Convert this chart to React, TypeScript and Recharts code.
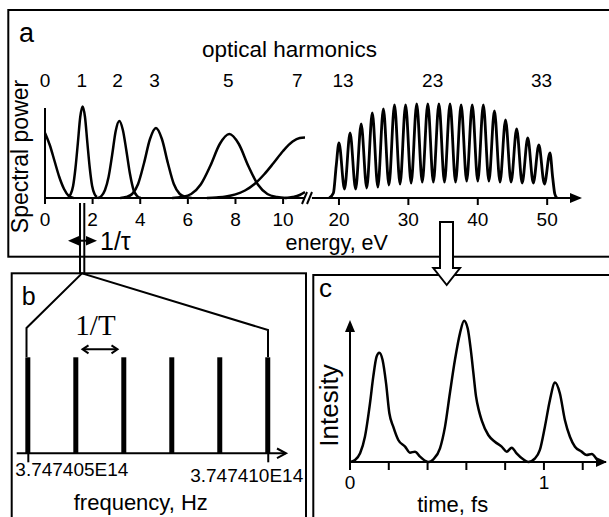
import { LineChart, ComposedChart, Line, Bar, XAxis, YAxis } from 'recharts'

const W = 609
const H = 517
const SANS = '"Liberation Sans", Arial, Helvetica, sans-serif'
const SERIF = '"Liberation Serif", "Times New Roman", serif'
const INK = '#000'

// (a) low-order harmonics, [energy eV, spectral power]
const harm0 = [[0, 65], [0.2, 53], [0.4, 37], [0.6, 21], [0.8, 9], [1.0, 2], [1.2, 0]]
const harm1 = [[0.98, 1], [1.08, 4], [1.18, 12], [1.28, 30], [1.38, 55], [1.48, 81], [1.58, 91.5], [1.68, 81], [1.78, 55], [1.88, 30], [1.98, 12], [2.08, 4], [2.18, 1]]
const harm2 = [[2.22, 0], [2.37, 2], [2.52, 8], [2.67, 21], [2.82, 43], [2.97, 67], [3.12, 77], [3.27, 68], [3.42, 47], [3.57, 24], [3.72, 8], [3.87, 2], [4.02, 0]]
const harm3 = [[3.16, 0], [3.41, 1], [3.66, 4], [3.91, 14], [4.16, 35], [4.41, 59], [4.66, 70], [4.91, 59], [5.16, 35], [5.41, 14], [5.66, 4], [5.91, 1], [6.16, 0]]
const harm5 = [[5.34, 0], [5.74, 1], [6.14, 4], [6.54, 13.5], [6.94, 32], [7.34, 54], [7.74, 64], [8.14, 54], [8.54, 32], [8.94, 13.5], [9.34, 4], [9.74, 1], [10.14, 0]]
const harm7 = [[6.8, 0], [7.2, 0.6], [7.6, 1.5], [8.0, 3.6], [8.4, 7.5], [8.8, 14], [9.2, 23.5], [9.6, 35], [10.0, 47], [10.4, 56.4], [10.7, 60], [10.92, 60.5]]
const harm9 = [[10.1, 0], [10.4, 1], [10.7, 3], [10.92, 6]]
const lowTicks = [0, 2, 4, 6, 8, 10]
const lowOrders = ['0', '1', '2', '3', '5', '7']
const lowOrderEnergy = [0, 1.55, 3.05, 4.6, 7.7, 10.6]

// (a) high-harmonic plateau
const plateau = [
  [18.6, 0], [19.2, 5], [19.6, 32],
  [20.0, 55], [20.8, 9], [21.6, 65], [22.4, 9], [23.2, 74], [24.0, 10], [24.8, 85], [25.6, 11],
  [26.4, 89], [27.2, 13], [28.0, 93], [28.8, 14], [29.6, 93], [30.4, 15], [31.2, 94], [32.0, 16],
  [32.8, 94], [33.6, 16], [34.4, 94], [35.2, 16], [36.0, 94], [36.8, 16], [37.6, 93], [38.4, 17],
  [39.2, 93], [40.0, 17], [40.8, 93], [41.6, 17], [42.4, 87], [43.2, 16], [44.0, 78], [44.8, 16],
  [45.6, 69], [46.4, 15], [47.2, 60], [48.0, 15], [48.8, 53], [49.6, 14], [50.4, 45],
  [50.8, 20], [51.1, 4], [51.4, 0],
]
const highTicks = [20, 30, 40, 50]
const highOrders = ['13', '23', '33']
const highOrderEnergy = [20.6, 33.5, 49.2]

// (b) comb lines
const combFreq = [3.747405e14, 3.747406e14, 3.747407e14, 3.747408e14, 3.747409e14, 3.74741e14]
const combAmp = [1, 1, 1, 1, 1, 1]
const combTicks = [3.747405e14, 3.74741e14]

// (c) attosecond pulse train, [time fs, intensity]
const pulse = [
  [0, 0], [0.026, 0.014], [0.052, 0.061], [0.077, 0.178], [0.103, 0.413], [0.12, 0.601], [0.137, 0.742],
  [0.151, 0.77], [0.168, 0.718], [0.186, 0.554], [0.203, 0.343], [0.223, 0.249], [0.249, 0.155],
  [0.284, 0.108], [0.309, 0.066], [0.335, 0.073], [0.361, 0.038], [0.387, 0.009], [0.404, 0],
  [0.43, 0.019], [0.464, 0.096], [0.49, 0.249], [0.515, 0.484], [0.541, 0.718], [0.567, 0.906],
  [0.588, 0.995], [0.607, 0.94], [0.622, 0.8], [0.636, 0.63], [0.65, 0.46], [0.665, 0.36],
  [0.68, 0.29], [0.713, 0.19], [0.747, 0.143], [0.782, 0.108], [0.808, 0.073], [0.834, 0.101],
  [0.859, 0.061], [0.893, 0.019], [0.919, 0], [0.954, 0.026], [0.979, 0.085], [1.005, 0.249],
  [1.031, 0.437], [1.057, 0.559], [1.082, 0.484], [1.108, 0.296], [1.134, 0.178], [1.16, 0.108],
  [1.194, 0.073], [1.22, 0.049], [1.246, 0.056], [1.272, 0.019],
]
const timeTicks = [0, 0.2, 0.4, 0.6, 0.8, 1.0, 1.2]

// plot rectangles in page pixels
const LOW = { x0: 45, x1: 305, y0: 98, y1: 198 }
const HIGH = { x0: 311.9, x1: 579.8, y0: 98, y1: 198 }
const COMB = { x0: 16.7, x1: 286, y0: 357.3, y1: 453.3 }
const PULSE = { x0: 350, x1: 606, y0: 320, y1: 462 }

const marginFor = (b: typeof LOW, top = 0, bottom = 30) => ({
  left: b.x0,
  right: W - b.x1,
  top: b.y0 - top,
  bottom: H - b.y1 - bottom,
})

const toPoints = (arr: number[][]) => arr.map(([e, p]) => ({ e, p }))

const tickFont = { fill: INK, fontSize: 19, fontFamily: SANS }
const layer: React.CSSProperties = { position: 'absolute', left: 0, top: 0 }

// harmonic order numbers sit on a second, top energy axis
function OrderAxis({ domain, ticks, labels }: { domain: number[]; ticks: number[]; labels: string[] }) {
  return (
    <XAxis
      xAxisId="n"
      dataKey="e"
      orientation="top"
      type="number"
      domain={domain}
      allowDataOverflow
      ticks={ticks}
      interval={0}
      height={20}
      tickSize={0}
      tickMargin={11}
      axisLine={false}
      tickLine={false}
      tick={tickFont}
      tickFormatter={(v: number) => labels[ticks.indexOf(v)] ?? ''}
    />
  )
}

function FreqTick(props: any) {
  const { x, y, payload, index } = props
  const first = index === 0
  const label = Number(payload.value).toExponential(6).replace('e+', 'E')
  return (
    <text
      x={first ? x - 13 : x + 35}
      y={y}
      dy={first ? 12 : 18}
      textAnchor={first ? 'start' : 'end'}
      fontSize={19}
      fontFamily={SANS}
      fill={INK}
    >
      {label}
    </text>
  )
}

function SpectrumLow() {
  const series = [harm0, harm1, harm2, harm3, harm5, harm7, harm9]
  const domain = [0, 10.92]
  return (
    <LineChart width={W} height={H} data={toPoints(harm1)} margin={marginFor(LOW, 20, 30)}>
      <XAxis
        xAxisId="e"
        dataKey="e"
        type="number"
        domain={domain}
        allowDataOverflow
        ticks={lowTicks}
        interval={0}
        height={30}
        tickSize={6}
        tickMargin={9}
        stroke={INK}
        axisLine={{ strokeWidth: 2 }}
        tickLine={{ strokeWidth: 2 }}
        tick={tickFont}
      />
      {OrderAxis({ domain, ticks: lowOrderEnergy, labels: lowOrders })}
      <YAxis hide domain={[0, 100]} />
      {series.map((s, i) => (
        <Line
          key={i}
          xAxisId="e"
          data={toPoints(s)}
          dataKey="p"
          type="monotone"
          dot={false}
          stroke={INK}
          strokeWidth={2.5}
          isAnimationActive={false}
        />
      ))}
    </LineChart>
  )
}

function SpectrumHigh() {
  const domain = [16.1, 54.7]
  return (
    <LineChart width={W} height={H} data={toPoints(plateau)} margin={marginFor(HIGH, 20, 30)}>
      <XAxis
        xAxisId="e"
        dataKey="e"
        type="number"
        domain={domain}
        allowDataOverflow
        ticks={highTicks}
        interval={0}
        height={30}
        tickSize={7}
        tickMargin={8}
        stroke={INK}
        axisLine={{ strokeWidth: 2 }}
        tickLine={{ strokeWidth: 2 }}
        tick={tickFont}
      />
      {OrderAxis({ domain, ticks: highOrderEnergy, labels: highOrders })}
      <YAxis hide domain={[0, 100]} />
      <Line
        xAxisId="e"
        dataKey="p"
        type="monotone"
        dot={false}
        stroke={INK}
        strokeWidth={2.8}
        isAnimationActive={false}
      />
    </LineChart>
  )
}

function Comb() {
  const data = combFreq.map((f, i) => ({ f, a: combAmp[i] }))
  const f0 = combFreq[0]
  const step = combFreq[1] - combFreq[0]
  return (
    <ComposedChart width={W} height={H} data={data} margin={marginFor(COMB, 0, 30)}>
      <XAxis
        dataKey="f"
        type="number"
        domain={[f0 - 0.242 * step, f0 + 5.37 * step]}
        ticks={combTicks}
        interval={0}
        height={30}
        tickSize={9}
        stroke={INK}
        axisLine={{ strokeWidth: 2 }}
        tickLine={{ strokeWidth: 2 }}
        tick={(p: any) => <FreqTick {...p} />}
      />
      <YAxis hide domain={[0, 1]} />
      <Bar dataKey="a" barSize={5} fill={INK} isAnimationActive={false} />
    </ComposedChart>
  )
}

function PulseTrain() {
  const data = pulse.map(([t, i]) => ({ t, i }))
  return (
    <LineChart width={W} height={H} data={data} margin={marginFor(PULSE, 0, 30)}>
      <XAxis
        dataKey="t"
        type="number"
        domain={[0, 1.32]}
        ticks={timeTicks}
        interval={0}
        height={30}
        tickSize={8}
        tickMargin={6}
        stroke={INK}
        axisLine={{ strokeWidth: 2 }}
        tickLine={{ strokeWidth: 2 }}
        tick={tickFont}
        tickFormatter={(v: number) => (v === 0 ? '0' : v === 1 ? '1' : '')}
      />
      <YAxis hide domain={[0, 1]} />
      <Line
        dataKey="i"
        type="monotone"
        dot={false}
        stroke={INK}
        strokeWidth={2.5}
        isAnimationActive={false}
      />
    </LineChart>
  )
}

function Annotations() {
  const label = { fill: INK, fontFamily: SANS }
  return (
    <svg width={W} height={H} style={{ ...layer, pointerEvents: 'none' }}>
      <g fill="none" stroke={INK} strokeWidth={2}>
        {/* panel frames */}
        <rect x={8.3} y={10} width={700} height={246.7} />
        <rect x={11.7} y={273.3} width={294.3} height={300} />
        <rect x={313.3} y={275} width={400} height={300} />
        {/* vertical axes */}
        <line x1={45} y1={108} x2={45} y2={199} />
        <line x1={350} y1={326} x2={350} y2={463} />
        {/* axis break */}
        <line x1={302} y1={204} x2={307} y2={192} />
        <line x1={307} y1={204} x2={312} y2={192} />
        {/* slice around the fundamental, opened up in (b) */}
        <line x1={80} y1={203} x2={80} y2={273.3} />
        <line x1={84.3} y1={203} x2={84.3} y2={273.3} />
        <line x1={74} y1={240.7} x2={91} y2={240.7} />
        <polyline points="26.5,357 26.5,328 82,273.3 268,330 268,357" />
        {/* comb spacing */}
        <line x1={83} y1={349.3} x2={117} y2={349.3} />
        <polyline points="88.5,345.3 82.5,349.3 88.5,353.3" />
        <polyline points="111.5,345.3 117.5,349.3 111.5,353.3" />
        {/* (b) axis head */}
        <polyline points="277,448.5 286,453.3 277,458.1" />
      </g>
      <g fill={INK}>
        <polygon points="582,198 570,193 570,203" />
        <polygon points="607,462 596,457 596,467" />
        <polygon points="350,320 345,332 355,332" />
        <polygon points="68,240.7 79,236 79,245.4" />
        <polygon points="97,240.7 86,236 86,245.4" />
      </g>
      {/* hollow arrow from the plateau to the pulse train */}
      <path
        d="M440,222 L453,222 L453,268 L460,268 L446.7,285 L433.3,268 L440,268 Z"
        fill="#fff"
        stroke={INK}
        strokeWidth={2}
      />

      <text x={19} y={41.5} fontSize={27} {...label}>a</text>
      <text x={289.5} y={56.5} fontSize={22.5} textAnchor="middle" {...label}>optical harmonics</text>
      <text transform="translate(28,156.5) rotate(-90)" fontSize={23} textAnchor="middle" {...label}>Spectral power</text>
      <text x={336.7} y={249.5} fontSize={21.5} textAnchor="middle" {...label}>energy, eV</text>
      <text x={100} y={250} fontSize={25} {...label}>1/τ</text>

      <text x={21.7} y={305} fontSize={25} {...label}>b</text>
      <text x={95.5} y={335} fontSize={29} textAnchor="middle" fill={INK} fontFamily={SERIF}>1/T</text>
      <text x={140.8} y={510} fontSize={22} textAnchor="middle" {...label}>frequency, Hz</text>

      <text x={319} y={296.7} fontSize={26} {...label}>c</text>
      <text transform="translate(338,405.5) rotate(-90)" fontSize={26} textAnchor="middle" {...label}>Intesity</text>
      <text x={452.7} y={511.7} fontSize={22} textAnchor="middle" {...label}>time, fs</text>
    </svg>
  )
}

export default function App() {
  return (
    <div style={{ position: 'absolute', left: 0, top: 0, width: W, height: H, background: '#fff', fontFamily: SANS }}>
      <div style={layer}><SpectrumLow /></div>
      <div style={layer}><SpectrumHigh /></div>
      <div style={layer}><Comb /></div>
      <div style={layer}><PulseTrain /></div>
      <Annotations />
    </div>
  )
}
